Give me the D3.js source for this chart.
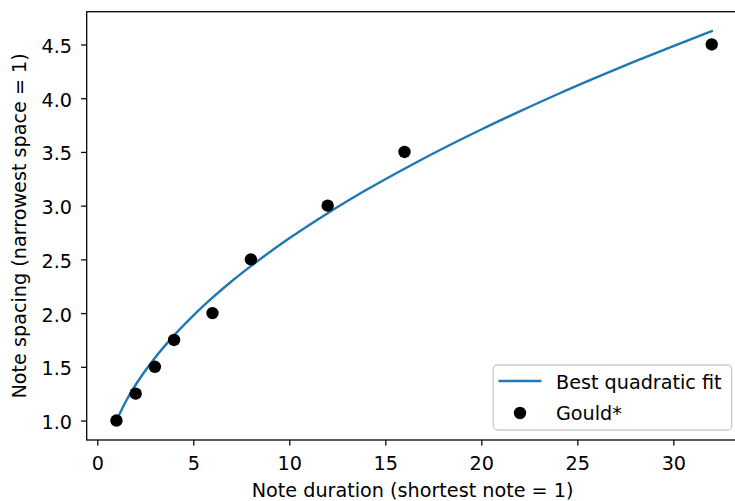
<!DOCTYPE html>
<html>
<head>
<meta charset="utf-8">
<script src="https://cdn.jsdelivr.net/npm/d3@7"></script>
<style>
  html, body { margin: 0; padding: 0; background: #fff; }
  svg { display: block; font-family: "DejaVu Sans", sans-serif; }
</style>
</head>
<body>
<svg id="chart" width="735" height="501"></svg>
<script>
// Observed data (Gould*)
const durations = [1, 2, 3, 4, 6, 8, 12, 16, 32];
const spacings  = [1.0, 1.25, 1.5, 1.75, 2.0, 2.5, 3.0, 3.5, 4.5];

// Best quadratic fit curve
const fitX = [1, 1.5, 2, 2.5, 3, 4, 5, 6, 7, 8, 10, 12, 14, 16, 18, 20, 22, 24, 26, 28, 30, 32];
const fitY = [1.0, 1.182, 1.333, 1.464, 1.583, 1.793, 1.977, 2.143, 2.296, 2.437, 2.696, 2.930,
              3.145, 3.344, 3.532, 3.709, 3.877, 4.039, 4.193, 4.342, 4.485, 4.624];

const xTicks = [0, 5, 10, 15, 20, 25, 30];
const yTicks = [1.0, 1.5, 2.0, 2.5, 3.0, 3.5, 4.0, 4.5];

const xLabel = "Note duration (shortest note = 1)";
const yLabel = "Note spacing (narrowest space = 1)";
const legendLabels = ["Best quadratic fit", "Gould*"];

const FS = 19.2;
const svg = d3.select("#chart");
const plot = { left: 86.7, top: 11.7, width: 654.8, height: 428.3 };

// matplotlib-style 5% margins
function padDomain(vals) {
  const lo = d3.min(vals), hi = d3.max(vals), m = (hi - lo) * 0.05;
  return [lo - m, hi + m];
}
const x = d3.scaleLinear().domain(padDomain(durations.concat(fitX)))
  .range([plot.left, plot.left + plot.width]);
const y = d3.scaleLinear().domain(padDomain(spacings.concat(fitY)))
  .range([plot.top + plot.height, plot.top]);

const g = svg.append("g");

// Fit line
const fitData = fitX.map((d, i) => [d, fitY[i]]);
g.append("path")
  .datum(fitData)
  .attr("fill", "none")
  .attr("stroke", "#1f77b4")
  .attr("stroke-width", 2.4)
  .attr("stroke-linejoin", "round")
  .attr("stroke-linecap", "square")
  .attr("d", d3.line().x(d => x(d[0])).y(d => y(d[1])).curve(d3.curveMonotoneX));

// Points
g.selectAll("circle.pt")
  .data(durations.map((d, i) => [d, spacings[i]]))
  .join("circle")
  .attr("class", "pt")
  .attr("cx", d => x(d[0]))
  .attr("cy", d => y(d[1]))
  .attr("r", 6.2)
  .attr("fill", "#000");

// Axes
const bottom = plot.top + plot.height;
const xAxis = d3.axisBottom(x).tickValues(xTicks).tickFormat(d3.format("d"))
  .tickSize(5.6).tickPadding(5.6);
const yAxis = d3.axisLeft(y).tickValues(yTicks).tickFormat(d3.format(".1f"))
  .tickSize(5.6).tickPadding(5.6);

const gx = svg.append("g").attr("transform", `translate(0,${bottom})`).call(xAxis);
const gy = svg.append("g").attr("transform", `translate(${plot.left},0)`).call(yAxis);
[gx, gy].forEach(a => {
  a.select(".domain").remove();
  a.selectAll(".tick line").attr("stroke", "#000").attr("stroke-width", 1.28);
  a.selectAll(".tick text").attr("font-size", FS).attr("fill", "#000")
    .attr("font-family", "DejaVu Sans, sans-serif");
});
gx.selectAll(".tick text").attr("dy", null).attr("y", 30);
gy.selectAll(".tick text").attr("dy", null).attr("x", -14.7).attr("y", 8);

// Frame (spines)
svg.append("rect")
  .attr("x", plot.left).attr("y", plot.top)
  .attr("width", plot.width).attr("height", plot.height)
  .attr("fill", "none").attr("stroke", "#000").attr("stroke-width", 1.28);

// Axis labels
svg.append("text")
  .attr("x", plot.left + plot.width / 2 - 1.5)
  .attr("y", 497)
  .attr("text-anchor", "middle")
  .attr("font-size", FS)
  .text(xLabel);
svg.append("text")
  .attr("transform", `translate(26,${plot.top + plot.height / 2}) rotate(-90)`)
  .attr("text-anchor", "middle")
  .attr("font-size", FS)
  .text(yLabel);

// Legend
const lg = svg.append("g");
lg.append("rect")
  .attr("x", 493.3).attr("y", 365).attr("width", 238.4).attr("height", 65)
  .attr("rx", 4).attr("ry", 4)
  .attr("fill", "#fff").attr("fill-opacity", 0.8)
  .attr("stroke", "#cccccc").attr("stroke-width", 1.28);
lg.append("line")
  .attr("x1", 498.5).attr("x2", 541.5).attr("y1", 381).attr("y2", 381)
  .attr("stroke", "#1f77b4").attr("stroke-width", 2.4);
lg.append("circle").attr("cx", 520).attr("cy", 413).attr("r", 6.2).attr("fill", "#000");
lg.selectAll("text.lbl")
  .data(legendLabels)
  .join("text")
  .attr("class", "lbl")
  .attr("x", 556)
  .attr("y", (d, i) => 389 + i * 31)
  .attr("font-size", FS)
  .text(d => d);
</script>
</body>
</html>
